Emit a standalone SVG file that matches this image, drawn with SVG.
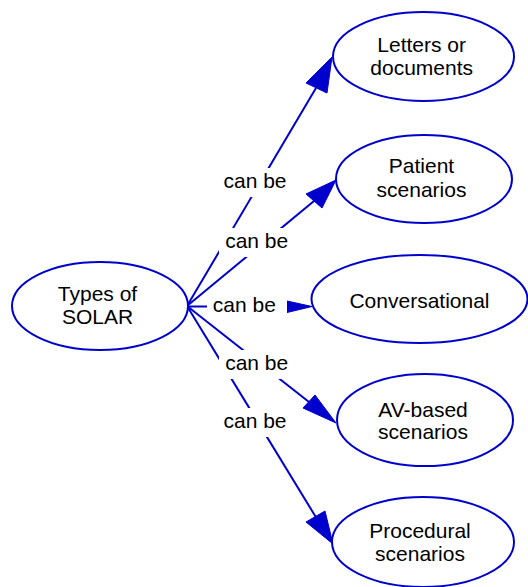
<svg xmlns="http://www.w3.org/2000/svg" width="528" height="587" viewBox="0 0 528 587">
<style>
.node ellipse{fill:#fff;stroke:#0000cc;stroke-width:2}
text{font-family:"Liberation Sans",Arial,sans-serif;font-size:21px;fill:#000;text-anchor:middle}
.edge line{stroke:#0000cc;stroke-width:2}
.edge polygon{fill:#0000cc;stroke:#0000cc;stroke-width:1}
.lbl{fill:#fff;stroke:none}
</style>
<rect width="528" height="587" fill="#fff"/>
<g id="connectors">
  <g class="edge" id="e1">
    <line x1="187" y1="306" x2="316" y2="88"/>
    <polygon points="332,57 306,83 327,93"/>
  </g>
  <g class="edge" id="e2">
    <line x1="187" y1="306" x2="314" y2="201"/>
    <polygon points="336,180 306,194 322,208"/>
  </g>
  <g class="edge" id="e3">
    <line x1="187" y1="306.5" x2="288" y2="306.5"/>
    <polygon points="312,306.5 287,301 287,312.5"/>
  </g>
  <g class="edge" id="e4">
    <line x1="187" y1="306" x2="309" y2="402"/>
    <polygon points="336,423 303,408 315,395"/>
  </g>
  <g class="edge" id="e5">
    <line x1="187" y1="306" x2="315.5" y2="516.5"/>
    <polygon points="333,544 306,522 325,511"/>
  </g>
  <g id="labels">
    <rect class="lbl" x="217" y="168" width="80" height="29"/>
    <text x="255" y="188">can be</text>
    <rect class="lbl" x="219" y="228" width="80" height="29"/>
    <text x="256.7" y="248">can be</text>
    <rect class="lbl" x="207" y="292" width="80" height="29"/>
    <text x="244.3" y="311.7">can be</text>
    <rect class="lbl" x="219" y="350" width="80" height="29"/>
    <text x="256.7" y="370">can be</text>
    <rect class="lbl" x="217" y="408" width="80" height="29"/>
    <text x="255" y="428">can be</text>
  </g>
</g>
<g class="node" id="types">
  <ellipse cx="100" cy="306" rx="88" ry="44"/>
  <text x="97.5" y="301">Types of</text>
  <text x="97.5" y="324">SOLAR</text>
</g>
<g class="node" id="letters">
  <ellipse cx="423.5" cy="56.5" rx="90.5" ry="44.5"/>
  <text x="421.7" y="52">Letters or</text>
  <text x="421.7" y="74.5">documents</text>
</g>
<g class="node" id="patient">
  <ellipse cx="424" cy="179" rx="88" ry="44"/>
  <text x="421.5" y="173">Patient</text>
  <text x="421.5" y="197">scenarios</text>
</g>
<g class="node" id="conversational">
  <ellipse cx="419.5" cy="299" rx="108" ry="44"/>
  <text x="419.5" y="308">Conversational</text>
</g>
<g class="node" id="avbased">
  <ellipse cx="425" cy="420" rx="88" ry="46"/>
  <text x="423" y="416.5">AV-based</text>
  <text x="423" y="439">scenarios</text>
</g>
<g class="node" id="procedural">
  <ellipse cx="423" cy="542" rx="91" ry="45"/>
  <text x="420" y="537.5">Procedural</text>
  <text x="420" y="561">scenarios</text>
</g>
</svg>
